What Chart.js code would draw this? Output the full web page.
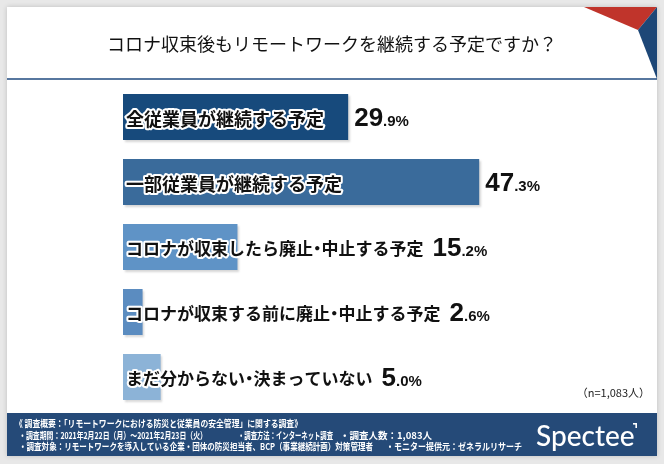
<!DOCTYPE html>
<html lang="ja">
<head>
<meta charset="utf-8">
<script src="https://cdn.jsdelivr.net/npm/chart.js@4"></script>
<style>
  html, body { margin: 0; padding: 0; background: #e8e8e8; }
  #wrap { width: 664px; height: 464px; }
</style>
</head>
<body>
<div id="wrap"><canvas id="remoteChart" width="664" height="464"></canvas></div>
<script>
// 設問・選択肢・回答率（%）
const chartTitle = 'コロナ収束後もリモートワークを継続する予定ですか？';
const categories = [
    '全従業員が継続する予定',
    '一部従業員が継続する予定',
    'コロナが収束したら廃止・中止する予定',
    'コロナが収束する前に廃止・中止する予定',
    'まだ分からない・決まっていない'
];
const values = [29.9, 47.3, 15.2, 2.6, 5.0];
const barColors = ['#174a7c', '#3a6b9b', '#5f93c6', '#5b8cc0', '#8cb3d7'];
const sampleNote = '（n=1,083人）';
const footerLines = [
    ['《 調査概要：「リモートワークにおける防災と従業員の安全管理」に関する調査》'],
    ['・調査期間：2021年2月22日（月）～2021年2月23日（火）', '・調査方法：インターネット調査', '・調査人数：1,083人'],
    ['・調査対象：リモートワークを導入している企業・団体の防災担当者、BCP（事業継続計画）対策管理者', '・モニター提供元：ゼネラルリサーチ']
];

const JP = '"Noto Sans CJK JP", "Noto Sans", sans-serif';

// 背景・タイトル・フッター
const framePlugin = {
    id: 'frame',
    beforeDraw(chart) {
        const ctx = chart.ctx;
        ctx.save();
        ctx.fillStyle = '#e8e8e8';
        ctx.fillRect(0, 0, 664, 464);
        ctx.shadowColor = 'rgba(0,0,0,0.18)';
        ctx.shadowBlur = 5;
        ctx.fillStyle = '#ffffff';
        ctx.fillRect(7, 7, 650, 449);
        ctx.restore();

        ctx.save();
        // 右上の三角
        ctx.fillStyle = '#c0342b';
        ctx.beginPath();
        ctx.moveTo(584, 7); ctx.lineTo(657, 7); ctx.lineTo(638, 30); ctx.closePath();
        ctx.fill();
        ctx.fillStyle = '#1d4777';
        ctx.beginPath();
        ctx.moveTo(638, 30); ctx.lineTo(657, 7); ctx.lineTo(657, 79); ctx.closePath();
        ctx.fill();

        // タイトル
        ctx.fillStyle = '#111';
        ctx.font = '400 18px ' + JP;
        ctx.textAlign = 'center';
        ctx.textBaseline = 'middle';
        ctx.fillText(chartTitle, 332, 44);

        ctx.strokeStyle = '#1f4a7f';
        ctx.lineWidth = 1.5;
        ctx.beginPath();
        ctx.moveTo(7, 79); ctx.lineTo(657, 79);
        ctx.stroke();

        // n数
        ctx.fillStyle = '#222';
        ctx.font = '400 11px ' + JP;
        ctx.textAlign = 'right';
        ctx.fillText(sampleNote, 650, 393);

        // フッター（横幅に合わせて詰める）
        ctx.fillStyle = '#254a78';
        ctx.fillRect(7, 413, 650, 43);
        ctx.fillStyle = '#ffffff';
        ctx.textAlign = 'left';
        ctx.font = '700 9.5px ' + JP;
        const xs = [[15], [19, 238, 340], [19, 386]];
        const widths = [[287], [188, 95, 94], [354, 136]];
        const ys = [423.5, 435, 446.5];
        footerLines.forEach((line, i) => {
            line.forEach((t, j) => ctx.fillText(t, xs[i][j], ys[i], widths[i][j]));
        });
        ctx.font = '500 28px Lato, "Open Sans", sans-serif';
        ctx.fillText('Spectee', 536, 437);
        ctx.fillRect(633, 423, 4, 1.6);
        ctx.fillRect(635.4, 423, 1.6, 5);
        ctx.restore();
    },
    beforeDatasetsDraw(chart) {
        const ctx = chart.ctx;
        ctx.save();
        ctx.shadowColor = 'rgba(0,0,0,0.16)';
        ctx.shadowOffsetX = 1.5;
        ctx.shadowOffsetY = 2;
        ctx.shadowBlur = 2;
    },
    afterDatasetsDraw(chart) {
        chart.ctx.restore();
    }
};

// 1文字ずつ描く（中黒は半角幅）
function drawLabel(ctx, text, x, y, size, stroke) {
    let cx = x;
    for (const ch of text) {
        const w = ch === '・' ? size * 0.5 : ctx.measureText(ch).width;
        const off = ch === '・' ? -size * 0.25 : 0;
        if (stroke) ctx.strokeText(ch, cx + off, y);
        else ctx.fillText(ch, cx + off, y);
        cx += w;
    }
    return cx;
}

// 棒の中のラベルと数値
const labelPlugin = {
    id: 'barLabels',
    afterDatasetsDraw(chart) {
        const ctx = chart.ctx;
        const meta = chart.getDatasetMeta(0);
        const left = chart.scales.x.getPixelForValue(0);
        ctx.save();
        meta.data.forEach((bar, i) => {
            const y = bar.y;
            const size = i < 2 ? 18 : 17;
            ctx.font = '700 ' + size + 'px ' + JP;
            ctx.textAlign = 'left';
            ctx.textBaseline = 'middle';
            ctx.lineJoin = 'round';
            ctx.strokeStyle = '#ffffff';
            ctx.lineWidth = 4;
            drawLabel(ctx, categories[i], left + 3, y + 2, size, true);
            ctx.fillStyle = '#111';
            const labelEnd = drawLabel(ctx, categories[i], left + 3, y + 2, size, false);

            let x = Math.max(bar.x + 6, labelEnd + 9);
            const parts = values[i].toFixed(1).split('.');
            ctx.textBaseline = 'alphabetic';
            ctx.font = '700 26px "Liberation Sans", Arial, sans-serif';
            ctx.fillText(parts[0], x, y + 9);
            x += ctx.measureText(parts[0]).width;
            ctx.font = '700 15px "Liberation Sans", Arial, sans-serif';
            ctx.fillText('.' + parts[1] + '%', x, y + 9);
        });
        ctx.restore();
    }
};

new Chart(document.getElementById('remoteChart'), {
    type: 'bar',
    data: {
        labels: categories,
        datasets: [{
            data: values,
            backgroundColor: barColors,
            borderWidth: 0,
            categoryPercentage: 1,
            barPercentage: 46 / 65
        }]
    },
    options: {
        indexAxis: 'y',
        responsive: false,
        animation: false,
        devicePixelRatio: 1,
        layout: { padding: { left: 123, right: 51.5, top: 84.5, bottom: 54.5 } },
        scales: {
            x: { display: false, min: 0, max: 65 },
            y: { display: false }
        },
        plugins: {
            legend: { display: false },
            tooltip: { enabled: false },
            title: { display: false }
        }
    },
    plugins: [framePlugin, labelPlugin]
});
</script>
</body>
</html>
